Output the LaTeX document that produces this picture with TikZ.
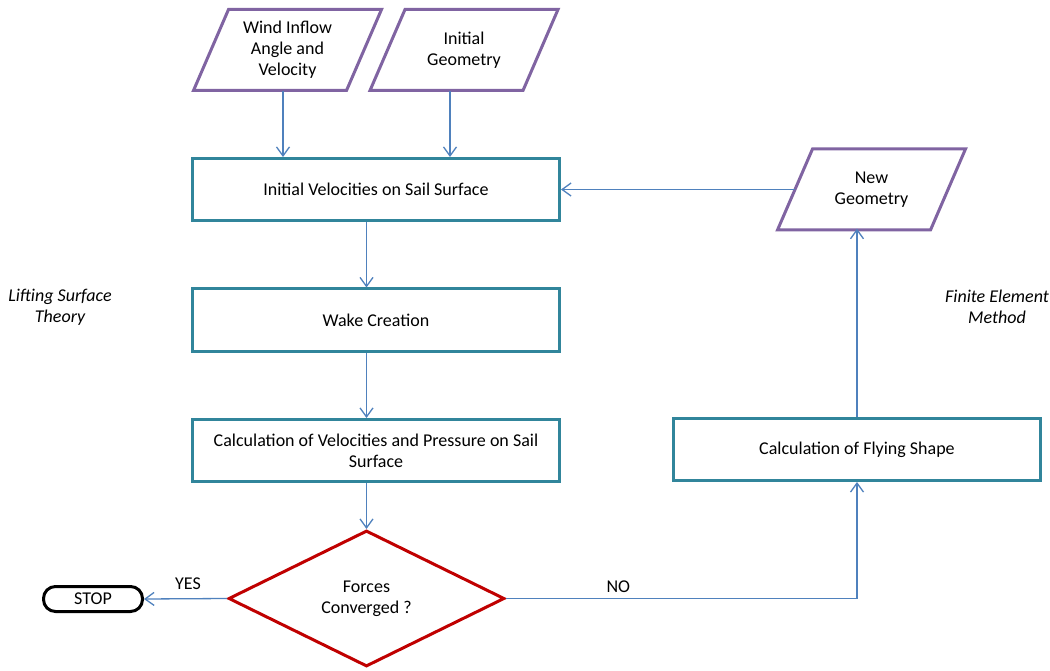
\documentclass[tikz,border=0pt]{standalone}
\usepackage{fontspec}
\setmainfont{Carlito}
\usetikzlibrary{shapes.geometric,arrows.meta}
\definecolor{boxteal}{RGB}{49,133,155}
\definecolor{iopurple}{RGB}{128,100,162}
\definecolor{decred}{RGB}{192,0,0}
\definecolor{arrblue}{RGB}{79,129,189}
\newcommand{\dgfont}{\fontsize{18}{21}\selectfont}
\begin{document}
\begin{tikzpicture}[x=1pt,y=-1pt,
  every node/.style={font=\dgfont, text=black},
  procbox/.style={draw=boxteal, line width=3pt, minimum width=367pt, minimum height=62pt, align=center, inner sep=0pt},
  iotext/.style={align=center, inner sep=0pt, minimum width=188pt, minimum height=81pt},
  iopath/.style={draw=iopurple, line width=3pt, line join=miter},
  decbox/.style={diamond, draw=decred, line width=3pt, minimum width=276pt, minimum height=136pt, align=center, inner sep=0pt},
  termbox/.style={draw=black, line width=3pt, rounded corners=12pt, minimum width=99pt, minimum height=25pt, inner sep=0pt},
  arr/.style={draw=arrblue, line width=1.3pt, -{Straight Barb[length=9pt,width=13pt,line width=1.3pt]}},
  lbl/.style={inner sep=0pt},
  note/.style={font=\dgfont\itshape, align=center, inner sep=0pt}
]
\useasboundingbox[fill=white] (0,0) rectangle (1050,671);

\node[iotext] (wind) at (287.5,50) {Wind Inflow\\Angle and\\Velocity};
\node[iotext] (geo) at (464,50) {Initial\\Geometry};
\node[iotext] (newg) at (871.5,189.5) {New\\Geometry};
\foreach \n in {wind,geo,newg}{
  \draw[iopath, shift={(\n.center)}] (-94,40.5) -- (59,40.5) -- (94,-40.5) -- (-59,-40.5) -- cycle;
}
\coordinate (newgL) at ([xshift=-76.5pt]newg.center);

\node[procbox] (vel) at (376,189.5) {Initial Velocities on Sail Surface};
\node[procbox] (wake) at (376,320) {Wake Creation};
\node[procbox] (calc) at (376,450.5) {Calculation of Velocities and Pressure on Sail\\Surface};
\node[procbox] (fly) at (857,449.5) {Calculation of Flying Shape};

\node[decbox] (diam) at (366.5,598.5) {Forces\\Converged ?};
\node[termbox] (stop) at (93,599) {STOP};

\node[note] (lst) at (60,307) {Lifting Surface\\Theory};
\node[note] (fem) at (997,307) {Finite Element\\Method};

\draw[arr] ([xshift=-4.5pt]wind.south) -- ([xshift=-4.5pt]wind.south |- vel.north);
\draw[arr] ([xshift=-14pt]geo.south) -- ([xshift=-14pt]geo.south |- vel.north);
\draw[arr] (diam.north |- vel.south) -- (diam.north |- wake.north);
\draw[arr] (diam.north |- wake.south) -- (diam.north |- calc.north);
\draw[arr] (diam.north |- calc.south) -- (diam.north);
\draw[arr] (diam.west) -- node[lbl, pos=0.47, anchor=south, yshift=8pt] {YES} (stop.east);
\draw[arr] (diam.east) -| node[lbl, pos=0.16, anchor=south, yshift=5pt] {NO} (fly.south);
\draw[arr] (fly.north) -- ([yshift=1.5pt]fly.north |- newg.south);
\draw[arr] (newgL) -- (vel.east);
\end{tikzpicture}
\end{document}
